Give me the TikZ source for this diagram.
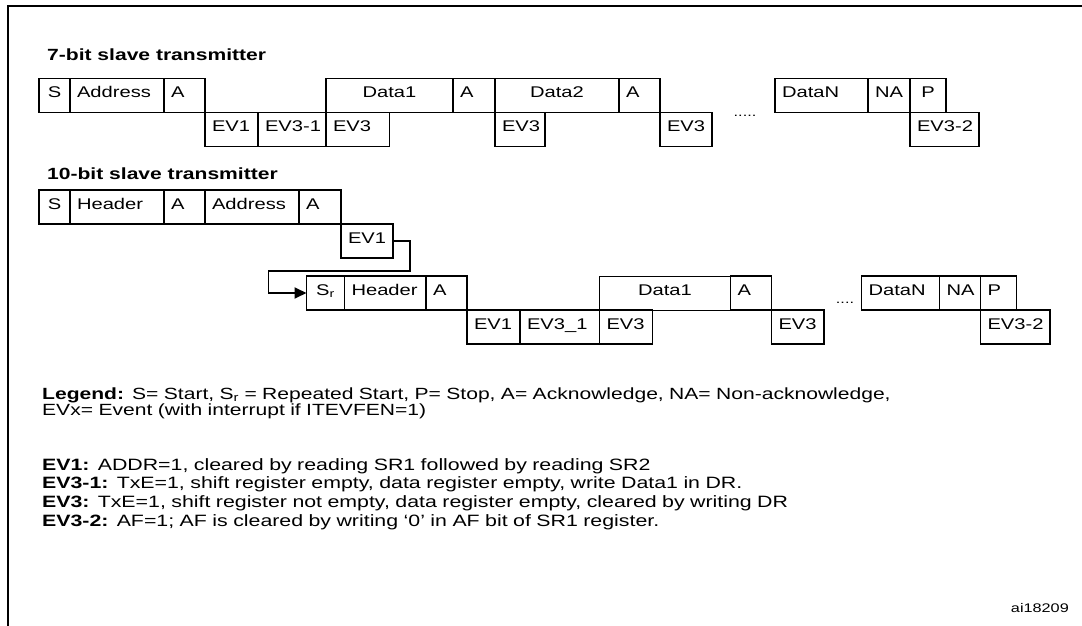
\documentclass[tikz,border=0pt]{standalone}
\usepackage{fontspec}
\setmainfont{Liberation Sans}[FakeStretch=1.3]
\usetikzlibrary{arrows.meta, positioning}

\begin{document}
\begin{tikzpicture}[
    x=1pt, y=-1pt,
    font=\fontsize{15.5}{18}\selectfont,
    fld/.style={draw, line width=1.8pt, inner xsep=7pt, inner ysep=0pt, outer sep=0pt,
        minimum height=34pt, text height=12pt, text depth=8pt, align=left, text width=#1},
    mid/.style={align=center},
    lite/.style={line width=0.9pt},
    head/.style={font=\fontsize{16.2}{19}\selectfont\bfseries, anchor=base west, inner sep=0pt},
    note/.style={anchor=base west, inner sep=0pt, text width=1000pt, align=left},
    dots/.style={font=\fontsize{12.5}{14}\selectfont, inner sep=0pt, anchor=base},
    link/.style={-{Triangle[length=12pt, width=11pt]}, line width=1.8pt},
]
\useasboundingbox (0,0) rectangle (1082,626);

% frame
\draw[line width=2.6pt] (8,626) -- (8,6) -- (1082,6);

% 7-bit slave transmitter
\node[head] (ttl7) at (47,61) {7-bit slave transmitter};
\node[fld=17pt, mid, anchor=north west] (s7) at (39,78.5) {S};
\node[fld=80pt, right=0pt of s7] (addr7) {Address};
\node[fld=27pt, right=0pt of addr7] (ack7a) {A};
\node[fld=39pt, below right=0pt and 0pt of ack7a] (ev7a) {EV1};
\node[fld=54pt, right=0pt of ev7a] (ev7b) {\mbox{EV3-1}};
\node[fld=113pt, mid, above right=0pt and 0pt of ev7b] (dat7a) {Data1};
\node[fld=49pt, lite, right=0pt of ev7b] (ev7c) {EV3};
\node[fld=28pt, right=0pt of dat7a] (ack7b) {A};
\node[fld=110pt, mid, lite, right=0pt of ack7b] (dat7b) {Data2};
\node[fld=36pt, anchor=north west] (ev7d) at (dat7b.south west) {EV3};
\node[fld=27pt, right=0pt of dat7b] (ack7c) {A};
\node[fld=38pt, below right=0pt and 0pt of ack7c] (ev7e) {EV3};
\node[dots] (gap7) at (745,116) {.....};
\node[fld=79pt, anchor=north west] (datn7) at (775,78.5) {DataN};
\node[fld=28pt, right=0pt of datn7] (nack7) {NA};
\node[fld=22pt, mid, right=0pt of nack7] (stop7) {P};
\node[fld=55pt, below right=0pt and 0pt of nack7] (ev7f) {\mbox{EV3-2}};

% 10-bit slave transmitter
\node[head] (ttl10) at (47,179) {10-bit slave transmitter};
\node[fld=17pt, mid, anchor=north west] (s10) at (39,190) {S};
\node[fld=80pt, right=0pt of s10] (hdr10a) {Header};
\node[fld=27pt, right=0pt of hdr10a] (ack10a) {A};
\node[fld=80pt, right=0pt of ack10a] (addr10) {Address};
\node[fld=28pt, right=0pt of addr10] (ack10b) {A};
\node[fld=38pt, below right=0pt and 0pt of ack10b] (ev10a) {EV1};

\node[fld=24pt, mid, anchor=north west] (sr10) at (306.5,276) {S\textsubscript{r}};
\node[fld=67.5pt, right=0pt of sr10] (hdr10b) {Header};
\node[fld=27pt, right=0pt of hdr10b] (ack10c) {A};
\node[fld=39pt, below right=0pt and 0pt of ack10c] (ev10b) {EV1};
\node[fld=65.5pt, right=0pt of ev10b] (ev10c) {EV3\_1};
\node[fld=117pt, mid, lite, above right=0pt and 0pt of ev10c] (dat10) {Data1};
\node[fld=39pt, right=0pt of ev10c] (ev10d) {EV3};
\node[fld=27pt, right=0pt of dat10] (ack10d) {A};
\node[fld=38.5pt, below right=0pt and 0pt of ack10d] (ev10e) {EV3};
\node[dots] (gap10) at (845,303) {....};
\node[fld=64pt, anchor=north west] (datn10) at (861.5,276) {DataN};
\node[fld=27pt, right=0pt of datn10] (nack10) {NA};
\node[fld=22pt, right=0pt of nack10] (stop10) {P};
\node[fld=55.5pt, below right=0pt and 0pt of nack10] (ev10f) {\mbox{EV3-2}};

\draw[link] (ev10a.east) -- ++(17,0) -- ++(0,30) -| ([xshift=-38pt]sr10.west) -- (sr10.west);

% legend and events
\node[note, font=\fontsize{16.2}{16}\selectfont] (lgd) at (42,399)
    {\textbf{Legend:} S= Start, S\textsubscript{r} = Repeated Start, P= Stop, A= Acknowledge, NA= Non-acknowledge,\\
     EVx= Event (with interrupt if ITEVFEN=1)};
\node[note, font=\fontsize{16.4}{18.8}\selectfont] (evs) at (42,470)
    {\textbf{EV1:} ADDR=1, cleared by reading SR1 followed by reading SR2\\
     \textbf{EV3-1:} TxE=1, shift register empty, data register empty, write Data1 in DR.\\
     \textbf{EV3:} TxE=1, shift register not empty, data register empty, cleared by writing DR\\
     \textbf{EV3-2:} AF=1; AF is cleared by writing ‘0’ in AF bit of SR1 register.};
\node[anchor=base east, inner sep=0pt, font=\fontsize{12.5}{15}\selectfont] (code) at (1069,612) {ai18209};

\end{tikzpicture}
\end{document}
